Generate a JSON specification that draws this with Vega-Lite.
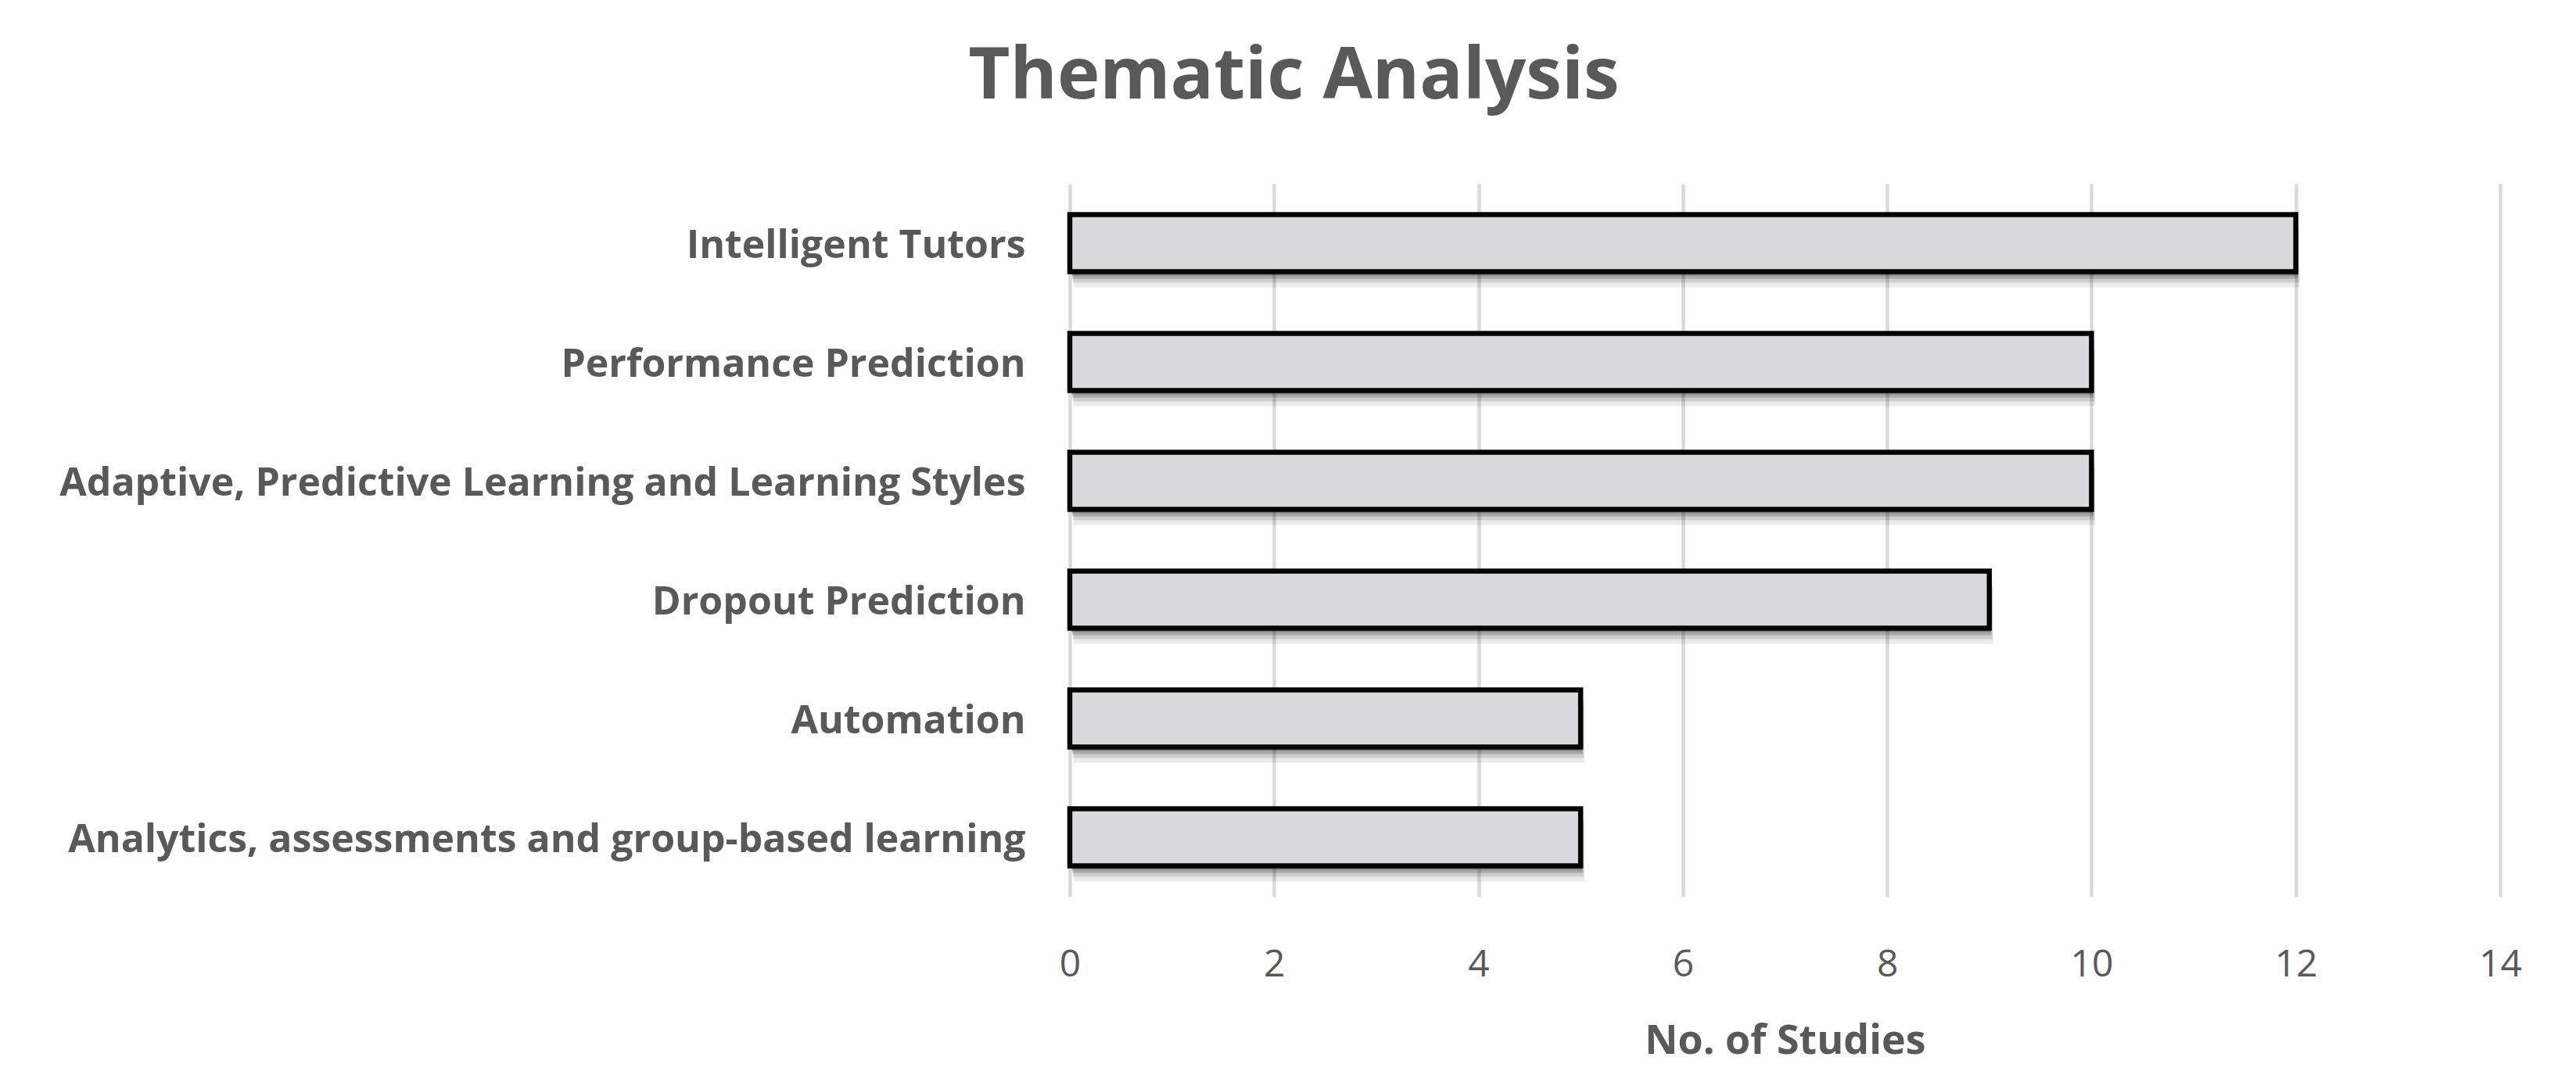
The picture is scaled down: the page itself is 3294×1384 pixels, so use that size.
{
  "$schema": "https://vega.github.io/schema/vega-lite/v6.json",
  "autosize": {"type": "none"},
  "padding": {"left": 1368, "top": 235, "right": 97, "bottom": 239},
  "width": 1829,
  "height": 912,
  "background": "white",
  "config": {"view": {"stroke": null}, "font": "Open Sans"},
  "title": {
    "text": "Thematic Analysis",
    "font": "Open Sans",
    "fontSize": 92,
    "fontWeight": "bold",
    "color": "#595959",
    "anchor": "middle",
    "dx": -628,
    "baseline": "alphabetic",
    "offset": 17
  },
  "data": {
    "values": [
      {"theme": "Intelligent Tutors", "studies": 12},
      {"theme": "Performance Prediction", "studies": 10},
      {"theme": "Adaptive, Predictive Learning and Learning Styles", "studies": 10},
      {"theme": "Dropout Prediction", "studies": 9},
      {"theme": "Automation", "studies": 5},
      {"theme": "Analytics, assessments and group-based learning", "studies": 5}
    ]
  },
  "encoding": {
    "y": {
      "field": "theme",
      "type": "nominal",
      "sort": null,
      "scale": {"paddingInner": 0.52, "paddingOuter": 0.26},
      "axis": {
        "title": null,
        "domain": false,
        "ticks": false,
        "tickSize": 0,
        "grid": false,
        "labelPadding": 57,
        "labelOffset": 4,
        "labelFont": "Open Sans",
        "labelFontWeight": "bold",
        "labelFontSize": 50,
        "labelColor": "#595959",
        "labelLimit": 2000
      }
    },
    "x": {
      "field": "studies",
      "type": "quantitative",
      "scale": {"domain": [0, 14]},
      "axis": {
        "title": "No. of Studies",
        "values": [0, 2, 4, 6, 8, 10, 12, 14],
        "domain": false,
        "ticks": false,
        "tickSize": 0,
        "grid": true,
        "gridColor": "#D9D9D9",
        "gridWidth": 4.5,
        "labelFlush": false,
        "labelFont": "Open Sans",
        "labelFontSize": 48,
        "labelColor": "#595959",
        "labelBaseline": "alphabetic",
        "labelPadding": 101,
        "titleFont": "Open Sans",
        "titleFontSize": 52,
        "titleFontWeight": "bold",
        "titleColor": "#595959",
        "titleBaseline": "alphabetic",
        "titleY": 200
      }
    }
  },
  "layer": [
    {"mark": {"type": "bar", "color": "#000000", "opacity": 0.08, "yOffset": 20, "xOffset": 5}},
    {"mark": {"type": "bar", "color": "#000000", "opacity": 0.12, "yOffset": 14, "xOffset": 4}},
    {"mark": {"type": "bar", "color": "#000000", "opacity": 0.18, "yOffset": 9, "xOffset": 3}},
    {"mark": {"type": "bar", "color": "#000000", "opacity": 0.25, "yOffset": 5, "xOffset": 2}},
    {"mark": {"type": "bar", "fill": "#D9DADC", "stroke": "#050505", "strokeWidth": 6.5, "strokeJoin": "miter"}}
  ]
}
